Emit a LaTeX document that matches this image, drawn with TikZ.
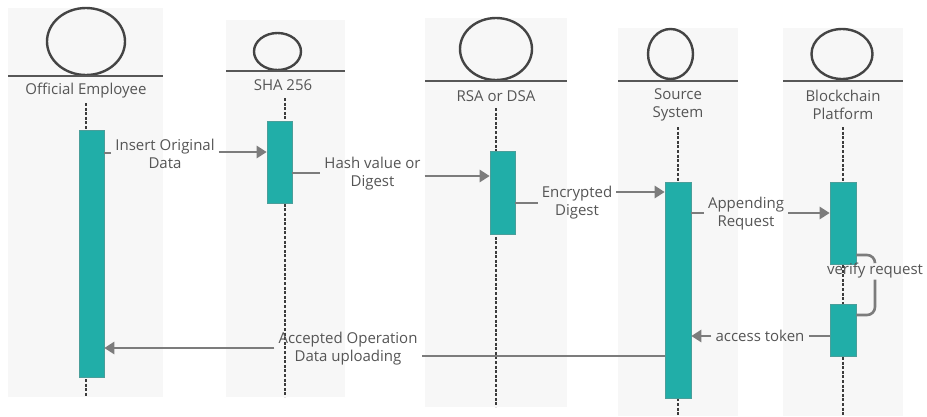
\documentclass[tikz,border=0pt]{standalone}
\usepackage{fontspec}
\setmainfont{Open Sans}
\usetikzlibrary{arrows.meta,shapes.geometric}

\definecolor{actfill}{HTML}{21AEA8}
\definecolor{actedge}{HTML}{4A9E9A}
\definecolor{ink}{HTML}{555555}
\definecolor{wire}{HTML}{7C7C7C}
\definecolor{headink}{HTML}{444444}
\definecolor{lifeink}{HTML}{3C3C3C}
\definecolor{panel}{HTML}{F7F7F7}

\begin{document}
\begin{tikzpicture}[x=1pt,y=-1pt,
  txt/.style={font=\fontsize{15}{18}\selectfont, text=ink, align=center, inner xsep=4pt, inner ysep=1pt},
  actbar/.style={draw=actedge, line width=0.6pt, fill=actfill, minimum width=25pt, anchor=north, inner sep=0pt},
  headshape/.style={draw=headink, line width=2.4pt, ellipse, inner sep=0pt},
  headline/.style={draw=headink!90!white, line width=2.4pt},
  lifeline/.style={draw=lifeink, line width=2pt, dash pattern=on 3pt off 1.6pt},
  wireline/.style={draw=wire, line width=2.6pt},
  msg/.style={wireline, -{Triangle[length=10pt,width=12pt]}},
  selfloop/.style={wireline, rounded corners=8pt}]

% canvas and the pale column panels
\useasboundingbox (0,0) rectangle (927,416);
\fill[white] (0,0) rectangle (927,416);
\fill[panel] (8,8) rectangle (163,397);
\fill[panel] (226,20) rectangle (345,397);
\fill[panel] (425,18) rectangle (567,407);
\fill[panel] (618,28) rectangle (738,416);
\fill[panel] (783,28) rectangle (903,416);

% participant heads
\node[headshape, minimum width=78pt, minimum height=67pt] (oeHead) at (86,41.5) {};
\draw[headline] (8,76) -- (163,76);
\node[txt] (oeName) at (86,91) {Official Employee};

\node[headshape, minimum width=47pt, minimum height=37pt] (shaHead) at (277.5,51.5) {};
\draw[headline] (226,71) -- (345,71);
\node[txt] (shaName) at (283,85) {SHA 256};

\node[headshape, minimum width=72pt, minimum height=62pt] (rsaHead) at (496,49) {};
\draw[headline] (425,81) -- (567,81);
\node[txt] (rsaName) at (496,96) {RSA or DSA};

\node[headshape, minimum width=45pt, minimum height=50pt] (srcHead) at (670.5,54) {};
\draw[headline] (618,81) -- (738,81);
\node[txt] (srcName) at (678,105) {Source\\System};

\node[headshape, minimum width=61pt, minimum height=50pt] (bcHead) at (842,54) {};
\draw[headline] (783,81) -- (903,81);
\node[txt] (bcName) at (843,105) {Blockchain\\Platform};

% lifelines
\coordinate (oeTop) at (86,103);   \coordinate (oeEnd) at (86,397);
\coordinate (shaTop) at (285,98);  \coordinate (shaEnd) at (285,397);
\coordinate (rsaTop) at (496,108); \coordinate (rsaEnd) at (496,407);
\coordinate (srcTop) at (678,127); \coordinate (srcEnd) at (678,416);
\coordinate (bcTop) at (843,127);  \coordinate (bcEnd) at (843,416);
\draw[lifeline] (oeTop) -- (oeEnd);
\draw[lifeline] (shaTop) -- (shaEnd);
\draw[lifeline] (rsaTop) -- (rsaEnd);
\draw[lifeline] (srcTop) -- (srcEnd);
\draw[lifeline] (bcTop) -- (bcEnd);

% activation bars
\node[actbar, minimum height=247pt] (oeBar) at (91.5,130) {};
\node[actbar, minimum height=82pt] (shaBar) at (279.5,121) {};
\node[actbar, minimum height=83pt] (rsaBar) at (502.5,151) {};
\node[actbar, minimum width=26pt, minimum height=216pt] (srcBar) at (678,182) {};
\node[actbar, minimum width=26pt, minimum height=82pt] (bcBarA) at (843,182) {};
\node[actbar, minimum width=26pt, minimum height=52pt] (bcBarB) at (843,304) {};

% messages
\node[txt] (m1) at (165,154) {Insert Original\\Data};
\draw[wireline] (oeBar.east |- 0,153) -- (m1.west |- 0,153);
\draw[msg] (m1.east |- 0,152) -- (shaBar.west |- 0,152);

\node[txt] (m2) at (372.5,174) {Hash value or\\Digest};
\draw[wireline] (shaBar.east |- 0,173) -- (m2.west |- 0,173);
\draw[msg] (m2.east |- 0,176) -- (rsaBar.west |- 0,176);

\node[txt] (m3) at (577,203) {Encrypted\\Digest};
\draw[wireline] (rsaBar.east |- 0,203) -- (m3.west |- 0,203);
\draw[msg] (m3.east |- 0,192) -- (srcBar.west |- 0,192);

\node[txt] (m4) at (746,214) {Appending\\Request};
\draw[wireline] (srcBar.east |- 0,213) -- (m4.west |- 0,213);
\draw[msg] (m4.east |- 0,213) -- (bcBarA.west |- 0,213);

\node[txt] (m5) at (875,271) {verify request};
\draw[selfloop] (bcBarA.east |- 0,255) -- (m5.north |- 0,255) -- (m5.north);
\draw[selfloop] (m5.south) -- (m5.south |- 0,315) -- (bcBarB.east |- 0,315);

\node[txt] (m6) at (760,336) {access token};
\draw[wireline] (bcBarB.west |- 0,336) -- (m6.east |- 0,336);
\draw[msg] (m6.west |- 0,336) -- (srcBar.east |- 0,336);

\node[txt] (m7) at (348,349) {Accepted Operation\\Data uploading};
\draw[wireline] (srcBar.west |- 0,356) -- (m7.east |- 0,356);
\draw[msg] (m7.west |- 0,348) -- (oeBar.east |- 0,348);

\end{tikzpicture}
\end{document}
